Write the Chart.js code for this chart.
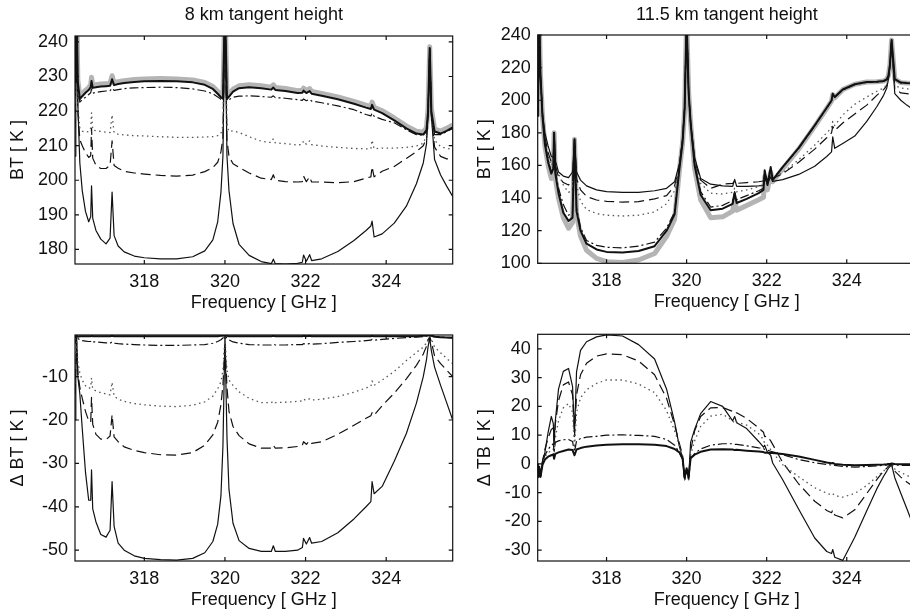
<!DOCTYPE html>
<html>
<head>
<meta charset="utf-8">
<script src="https://cdn.jsdelivr.net/npm/chart.js@4.4.0/dist/chart.umd.min.js"></script>
<style>
  html, body { margin: 0; padding: 0; background: #fff; overflow: hidden; }
  #page { position: relative; width: 910px; height: 614px; overflow: hidden; background: #fff; }
  canvas { position: absolute; }
</style>
</head>
<body>
<div id="page">
  <canvas id="tl_chart" width="455" height="320" style="left:0px;top:0px"></canvas>
  <canvas id="tr_chart" width="460" height="320" style="left:467px;top:0px"></canvas>
  <canvas id="bl_chart" width="455" height="314" style="left:0px;top:300px"></canvas>
  <canvas id="br_chart" width="460" height="314" style="left:467px;top:300px"></canvas>
</div>
<script>
// frequency grid [GHz], shared by all four panels
const freq = [
  316.28, 316.30, 316.32, 316.35, 316.40, 316.46, 316.54, 316.62, 316.67, 316.69, 316.72,
  316.80, 316.92, 317.05, 317.15, 317.20, 317.25, 317.35, 317.50, 317.75, 318.00,
  318.40, 318.80, 319.20, 319.50, 319.70, 319.82, 319.90, 319.95, 320.00, 320.05,
  320.10, 320.20, 320.35, 320.60, 320.90, 321.15, 321.20, 321.25, 321.50, 321.80,
  321.92, 321.95, 322.02, 322.10, 322.15, 322.40, 322.80, 323.20, 323.50, 323.62,
  323.65, 323.70, 323.90, 324.20, 324.50, 324.75, 324.92, 325.00, 325.04, 325.08,
  325.12, 325.20, 325.35, 325.50, 325.65
];
const freqTicks = [318, 320, 322, 324];

// 8 km tangent height, BT [K]
const tlRef = [
  229, 237, 252, 229, 224.2, 225.0, 226.0, 226.8, 227.6, 229.8, 227.4,
  227.6, 227.8, 227.9, 228.0, 230.2, 228.2, 228.5, 228.8, 229.1, 229.3,
  229.4, 229.3, 229.0, 228.3, 227.1, 225.7, 224.7, 224.3, 252, 224.2,
  224.9, 226.3, 227.3, 227.6, 227.3, 226.9, 227.6, 226.8, 226.5, 225.9,
  226.0, 226.6, 225.9, 226.5, 225.7, 225.1, 224.1, 222.8, 221.7, 221.3,
  222.6, 221.1, 220.1, 218.0, 215.7, 214.2, 213.9, 215.2, 221, 238.6,
  221, 214.8, 214.2, 215.0, 216.0
];
const tlSolid1 = [
  228.3, 236, 251, 228.3, 223.5, 224.3, 225.3, 226.1, 226.9, 228.7, 226.7,
  226.9, 227.1, 227.2, 227.3, 229.2, 227.5, 227.8, 228.1, 228.4, 228.6,
  228.7, 228.6, 228.3, 227.6, 226.4, 225.0, 224.0, 223.6, 251, 223.5,
  224.2, 225.6, 226.6, 226.9, 226.6, 226.2, 226.8, 226.1, 225.8, 225.2,
  225.3, 225.9, 225.2, 225.8, 225.0, 224.4, 223.4, 222.1, 221.0, 220.6,
  221.8, 220.4, 219.4, 217.3, 215.0, 213.5, 213.2, 214.5, 220, 238.2,
  220, 214.1, 213.5, 214.3, 215.3
];
const tlDashDot = [
  226.5, 234, 250, 226.5, 222.6, 223.3, 224.0, 224.8, 225.3, 226.4, 225.2,
  225.4, 225.6, 225.8, 225.9, 226.6, 226.0, 226.2, 226.5, 226.7, 226.8,
  226.9, 226.8, 226.4, 225.8, 225.0, 224.1, 223.4, 223.4, 250, 223.0,
  223.3, 224.0, 224.3, 224.4, 224.2, 224.0, 224.4, 223.9, 223.7, 223.3,
  223.1, 223.5, 223.0, 223.4, 222.9, 222.4, 221.5, 220.4, 219.0, 218.6,
  219.4, 218.5, 217.6, 216.6, 214.6, 213.2, 213.0, 214.2, 220, 238,
  219.5, 213.2, 213.2, 214.0, 215.0
];
const tlDotted = [
  221, 232, 250, 222, 215.0, 214.2, 213.9, 214.1, 215.1, 219.5, 214.5,
  214.3, 214.1, 213.9, 213.8, 218.9, 213.7, 213.3, 213.1, 212.9, 212.8,
  212.6, 212.4, 212.4, 212.5, 212.6, 212.9, 213.5, 215.8, 251, 215.7,
  214.1, 214.3, 213.8, 212.6, 211.3, 210.9, 212.0, 210.8, 210.6, 210.2,
  210.4, 211.4, 210.4, 211.4, 210.3, 209.9, 209.5, 209.2, 209.1, 209.1,
  211.6, 209.1, 209.3, 209.3, 209.5, 209.9, 210.7, 213.0, 219.8, 237.9,
  219.7, 211.6, 209.7, 209.2, 209.0
];
const tlDashed = [
  215, 229, 250, 220, 211.7, 210, 208, 206.6, 207.1, 215, 206.4,
  204.3, 203.4, 203.4, 204.3, 211.4, 204.3, 203.5, 202.6, 202.1, 201.8,
  201.4, 201.2, 201.5, 202.5, 203.7, 205.2, 208.2, 212.3, 250, 211.7,
  206.9, 204.8, 203.7, 202.1, 200.6, 200.2, 201.6, 200.0, 199.6, 199.5,
  199.6, 201.2, 199.6, 201.0, 199.5, 199.5, 199.3, 199.6, 200.6, 201.0,
  203.9, 201.0, 202.6, 204.0, 206.3, 208.3, 210.0, 212.2, 219.5, 237.8,
  219, 209.6, 206.9, 206.2, 206.0
];
const tlSolid2 = [
  207, 222, 251, 222, 205, 197, 191, 188, 189.5, 198.4, 189,
  185.5, 183, 181.6, 183.3, 196.6, 184, 181, 179.3, 178.1, 177.6,
  177.3, 177.3, 177.9, 179.6, 182.8, 188, 196.5, 207, 251, 207,
  197, 187.5, 181.5, 178.3, 176.5, 175.9, 177.2, 175.9, 175.8, 176.0,
  176.3, 178.4, 176.6, 178.5, 176.8, 177.3, 179.4, 182.6, 185.5, 186.8,
  188.2, 183.6, 184.5, 187.6, 192.5, 199.0, 205.0, 210.5, 220, 238,
  219, 206, 201.5, 198.3, 195.3
];
const tlYTicks = [180, 190, 200, 210, 220, 230, 240];

// 11.5 km tangent height, BT [K]
const trRef = [
  190, 215, 248, 215, 190, 172, 160, 152, 155, 180, 152,
  140, 128, 121.5, 125, 176, 130, 116.6, 108, 103, 101,
  100.5, 102, 106, 116.5, 127, 157, 174, 194, 250, 205,
  186, 158, 139, 128, 128.5, 132, 140, 132.5, 135.5, 139,
  140.5, 153, 145, 156, 150, 158, 170, 184, 195, 199.5,
  203.5, 201.5, 206.5, 209.8, 211.2, 211.4, 211.8, 212.8, 215, 222,
  237, 213, 210.8, 210.5, 210.4
];
const trSolid1 = [
  190, 215, 248, 215, 190, 173, 162, 155, 158, 180, 155,
  143, 131, 126, 128, 176, 132, 120, 112, 108.5, 107,
  106.6, 107.5, 110.5, 120, 130, 158, 174.5, 194.5, 250, 205,
  186, 160, 142, 132.5, 133.5, 136.5, 143, 137, 139.5, 143,
  145, 157, 148, 159, 151, 159, 170.8, 184.6, 195.4, 199.8,
  204, 202, 206.6, 209.8, 211.2, 211.4, 211.8, 212.8, 215, 222,
  237, 213, 210.8, 210.5, 210.4
];
const trDashDot = [
  190, 215, 248, 215, 190, 173.5, 163, 156, 159, 180, 157,
  146, 136, 129.5, 131, 176, 134, 122, 114, 111, 109.8,
  109.5, 110.5, 113, 121.5, 131.5, 158.5, 175, 195, 250, 205,
  186, 160, 144, 134.5, 135.5, 138.5, 144, 139, 141.5, 144.5,
  146, 156, 149, 158, 151.5, 159, 170.5, 184.2, 195.2, 199.6,
  203.6, 201.8, 206.2, 209.6, 211.0, 211.2, 211.6, 212.6, 215, 222,
  237, 212.8, 210.6, 210.3, 210.2
];
const trDotted = [
  190, 215, 248, 215, 190, 175, 165, 160, 162, 180, 162,
  155, 148, 143.5, 145, 176, 148, 138, 133, 130.5, 129.5,
  129.0, 129.5, 131.5, 136.5, 144.5, 159.5, 175.5, 195, 250, 205,
  186, 162, 149, 143, 142.5, 143.5, 146, 143.8, 145, 147,
  148, 154, 150, 156, 152.2, 155.5, 163.5, 172.5, 180, 183,
  187, 184.5, 191, 197.5, 202, 205.5, 207.5, 209.5, 213, 221,
  236.5, 209, 207.5, 207, 207
];
const trDashed = [
  190, 215, 248, 215, 191, 177, 168, 162, 163, 180, 160,
  153, 149.5, 148, 150, 176, 152, 145, 141, 138.8, 138,
  137.5, 137.8, 139.5, 141.5, 147.5, 160, 176, 195.5, 250, 205,
  186, 163, 151, 146, 148.5, 149, 150.5, 149, 149.5, 150,
  150.5, 153, 151, 155, 152, 155, 162, 170, 177, 180,
  184, 181.5, 186, 191.5, 197, 203, 206.5, 209, 213, 221,
  236.5, 207, 204.5, 204, 203.5
];
const trSolid2 = [
  190, 215, 248, 215, 192, 180, 172, 165.5, 165, 180, 163,
  156, 153.5, 152.5, 156, 176, 156, 151, 147.5, 145, 144,
  143.5, 143.5, 144.5, 146, 150, 161, 176.5, 196, 250, 205,
  186, 165, 152, 148.5, 147.5, 147.2, 151.5, 147.2, 147.2, 147.5,
  148, 152, 149, 153, 150.2, 151.3, 154.5, 159.5, 165.5, 168.3,
  177.5, 170.5, 173.5, 178, 187, 196, 203, 207.5, 213, 221,
  236, 204, 200, 197, 194.5
];
const trYTicks = [100, 120, 140, 160, 180, 200, 220, 240];

// 8 km tangent height, delta BT [K]
const blSolid1 = [
  -0.9, -0.8, -0.4, -0.8, -0.7, -0.7, -0.7, -0.7, -0.7, -0.6, -0.7,
  -0.7, -0.7, -0.7, -0.7, -0.6, -0.7, -0.7, -0.7, -0.7, -0.7,
  -0.7, -0.7, -0.7, -0.7, -0.7, -0.7, -0.6, -0.6, -0.4, -0.6,
  -0.7, -0.7, -0.7, -0.7, -0.7, -0.7, -0.6, -0.7, -0.7, -0.7,
  -0.7, -0.6, -0.7, -0.6, -0.7, -0.7, -0.7, -0.7, -0.7, -0.7,
  -0.6, -0.7, -0.7, -0.7, -0.7, -0.7, -0.6, -0.6, -0.5, -0.4,
  -0.6, -0.8, -0.9, -1.0, -1.0
];
const blDashDot = [
  -2.5, -1.5, -0.5, -1.2, -1.5, -1.7, -1.8, -1.9, -1.9, -1.7, -2.0,
  -2.0, -2.1, -2.2, -2.3, -2.0, -2.3, -2.4, -2.5, -2.6, -2.7,
  -2.8, -2.8, -2.7, -2.6, -2.3, -1.9, -1.5, -1.1, -0.6, -1.1,
  -1.5, -2.0, -2.3, -2.6, -2.7, -2.7, -2.5, -2.7, -2.7, -2.6,
  -2.6, -2.4, -2.5, -2.4, -2.5, -2.4, -2.1, -1.9, -1.7, -1.6,
  -1.4, -1.6, -1.4, -1.2, -1.0, -0.9, -0.8, -0.6, -0.5, -0.3,
  -0.5, -0.7, -0.8, -1.0, -1.1
];
const blDotted = [
  -8, -5, -1.5, -6.5, -9.2, -10.8, -12.1, -12.7, -12.5, -10.3, -12.9,
  -13.3, -13.7, -14.0, -14.2, -11.3, -14.5, -15.2, -15.7, -16.2, -16.5,
  -16.8, -16.9, -16.6, -15.8, -14.5, -12.8, -11.2, -8.5, -1, -8.5,
  -10.8, -12.0, -13.5, -15.0, -16.0, -16.0, -15.6, -16.0, -15.9, -15.7,
  -15.6, -15.2, -15.5, -15.1, -15.4, -15.2, -14.6, -13.6, -12.6, -12.2,
  -11.0, -12.0, -10.8, -8.8, -6.3, -4.4, -3.2, -2.2, -1.2, -0.7,
  -1.3, -3.2, -4.5, -5.8, -7.0
];
const blDashed = [
  -14, -8, -2, -9, -12.5, -15.0, -18.0, -20.2, -20.5, -14.8, -21.0,
  -23.3, -24.4, -24.5, -23.7, -18.8, -23.9, -25.0, -26.2, -27.0, -27.5,
  -28.0, -28.1, -27.5, -25.8, -23.4, -20.5, -16.5, -12, -2, -12.5,
  -18.0, -21.5, -23.6, -25.5, -26.5, -26.5, -25.8, -26.5, -26.4, -26.1,
  -25.8, -25.0, -25.6, -24.8, -25.4, -25.0, -23.3, -21.2, -19.6, -19.0,
  -18.3, -18.9, -16.7, -13.8, -10.5, -7.4, -4.8, -3.0, -1.5, -0.8,
  -2, -5.2, -7.0, -8.5, -10.0
];
const blSolid2 = [
  -20, -10, -0.5, -10, -14, -22, -32, -38.5, -38.5, -31.5, -40.5,
  -43.5, -46.4, -47.0, -45.4, -34.2, -44.5, -48.4, -50.0, -51.3, -51.9,
  -52.2, -52.3, -51.9, -50.6, -48.0, -44.0, -37.5, -26, -0.5, -24,
  -36, -43.8, -47.8, -49.6, -50.3, -50.3, -49.0, -50.3, -50.3, -50.0,
  -49.4, -47.3, -48.6, -47.1, -48.4, -48.0, -46.0, -42.8, -40.0, -38.8,
  -34.2, -37.0, -35.3, -29.5, -23.1, -16.1, -10.0, -6.1, -3, -1.1,
  -4, -7.8, -12.0, -16.0, -20.0
];
const blYTicks = [-50, -40, -30, -20, -10];

// 11.5 km tangent height, delta TB [K]
const brSolid1 = [
  0, -4.5, -1, -4.5, -0.3, 1.5, 2.5, 3.0, 3.3, 1.8, 3.5,
  4.0, 4.5, 5.0, 4.8, 3.0, 5.0, 5.5, 6.0, 6.4, 6.7,
  6.8, 6.8, 6.7, 6.2, 5.2, 4.0, 1.8, -4.5, -1.5, -4.5,
  2.0, 3.2, 4.2, 5.0, 5.1, 5.0, 4.8, 4.9, 4.6, 4.3,
  4.1, 3.9, 4.0, 3.8, 3.8, 3.4, 2.6, 1.4, 0.5, 0.2,
  0.3, 0.0, -0.3, -0.5, -0.4, -0.3, -0.2, -0.1, 0, 0,
  0.1, 0, -0.1, -0.1, -0.1
];
const brDashDot = [
  0, -4.5, -1, -4.5, 0.5, 3, 5, 6.5, 7, 4, 7.5,
  8.0, 8.4, 8.5, 7.8, 4.2, 8.0, 8.8, 9.3, 9.6, 10.0,
  10.1, 9.9, 9.6, 8.5, 6.5, 4.0, 1.5, -5.5, -2, -5.5,
  2.0, 3.6, 5.2, 6.5, 7.0, 7.0, 6.8, 6.8, 6.3, 5.6,
  5.4, 5.0, 4.8, 4.4, 4.2, 3.2, 1.5, 0.4, -0.2, -0.4,
  -0.3, -0.5, -0.9, -1.1, -0.9, -0.7, -0.5, -0.4, -0.3, -0.3,
  -0.3, -0.4, -0.5, -0.5, -0.5
];
const brDotted = [
  0, -4.5, -1, -4.5, 0.5, 2.5, 4.0, 4.5, 5.2, 3, 9,
  15, 19.5, 21, 18, 5.5, 18, 23, 25.8, 28, 29.2,
  29.2, 27.8, 24.8, 18.5, 11.5, 6.5, 2.5, -5.5, -2, -5.5,
  3.0, 8.0, 13.0, 16.6, 17.3, 15.0, 14.0, 14.5, 13.5, 10.5,
  8.5, 7.0, 6.5, 5.0, 4.0, -0.3, -4.5, -8.3, -10.2, -10.8,
  -10.4, -11.0, -11.6, -10.3, -7.5, -4.5, -2.5, -1.4, -0.8, -0.4,
  -0.3, -1.8, -3.0, -4.0, -5.0
];
const brDashed = [
  0, -4.5, -1, -4.5, 0.8, 5, 9, 12, 12.5, 6, 14,
  22, 27.5, 28.5, 24, 9.5, 24, 31, 35, 37.5, 38.3,
  38, 35.8, 31, 22.8, 13.5, 7, 3, -5.5, -2, -5.5,
  4.5, 11.5, 16.5, 19.5, 19.6, 18.3, 17.5, 17.8, 15.8, 12.5,
  11.0, 9.5, 9.6, 8.0, 6.8, 0.5, -7.0, -13.0, -16.2, -17.0,
  -16.0, -17.8, -18.8, -16.0, -10.3, -5.5, -2.5, -1.5, -0.8, -0.4,
  -0.3, -2.5, -4.6, -6.3, -7.8
];
const brSolid2 = [
  0, -4.5, -1, -4.5, 1, 4, 11, 16.5, 14, 7.1, 15,
  26, 32.2, 33.2, 27, 10.8, 32, 39.5, 42.5, 44.2, 44.9,
  44.5, 41.5, 36.5, 26, 14.5, 6, 2, -5.5, -2, -5.5,
  7.5, 12, 17.5, 21.7, 20, 15, 16.5, 14.3, 12.3, 7.8,
  5.8, 6.5, 4.0, 3.0, 0.3, -5.5, -15.8, -25.8, -30.5, -31.2,
  -29.8, -32.5, -33.6, -25.5, -16.3, -8.7, -4.3, -2.5, -1.5, -0.9,
  -0.3, -4.8, -10.2, -15.5, -21
];
const brYTicks = [-30, -20, -10, 0, 10, 20, 30, 40];

Chart.defaults.font.family = "'Liberation Sans', Arial, Helvetica, sans-serif";
Chart.defaults.font.size = 18;
Chart.defaults.color = "#111";

const INK = "#111";

// line styles
const refStyle = { borderColor: "#b4b4b4", borderWidth: 5 };
const solid1Style = { borderColor: INK, borderWidth: 2 };
const dashDotStyle = { borderColor: INK, borderWidth: 1.2, borderDash: [9, 3, 2, 3] };
const dottedStyle = { borderColor: "#555", borderWidth: 1.3, borderDash: [1.5, 3.5] };
const dashedStyle = { borderColor: INK, borderWidth: 1.2, borderDash: [10, 5] };
const solid2Style = { borderColor: INK, borderWidth: 1.2 };

function series(values, style) {
  return Object.assign(
    { data: freq.map((f, i) => ({ x: f, y: values[i] })), fill: false },
    style
  );
}

// box around the plot with MATLAB style inward ticks
const framePlugin = {
  id: "frame",
  afterDatasetsDraw(chart) {
    const { ctx, chartArea: a, scales } = chart;
    ctx.save();
    ctx.strokeStyle = INK;
    ctx.lineWidth = 1.2;
    ctx.strokeRect(a.left, a.top, a.right - a.left, a.bottom - a.top);
    ctx.beginPath();
    scales.x.ticks.forEach((t) => {
      const px = scales.x.getPixelForValue(t.value);
      ctx.moveTo(px, a.bottom);
      ctx.lineTo(px, a.bottom - 4);
      ctx.moveTo(px, a.top);
      ctx.lineTo(px, a.top + 4);
    });
    scales.y.ticks.forEach((t) => {
      const py = scales.y.getPixelForValue(t.value);
      ctx.moveTo(a.left, py);
      ctx.lineTo(a.left + 4, py);
      ctx.moveTo(a.right, py);
      ctx.lineTo(a.right - 4, py);
    });
    ctx.stroke();
    ctx.restore();
  },
};

function makeChart(id, p) {
  return new Chart(document.getElementById(id), {
    type: "line",
    data: { datasets: p.datasets },
    options: {
      responsive: false,
      animation: false,
      layout: { padding: p.padding },
      elements: {
        point: { radius: 0 },
        line: { tension: 0, borderJoinStyle: "round" },
      },
      plugins: {
        legend: { display: false },
        tooltip: { enabled: false },
        title: p.title
          ? {
              display: true,
              text: p.title,
              fullSize: false,
              font: { size: 18, weight: "normal" },
              padding: { top: 4.7, bottom: p.titleGap },
            }
          : { display: false },
      },
      scales: {
        x: {
          type: "linear",
          min: 316.28,
          max: p.xMax,
          grid: { display: false, drawTicks: false },
          border: { display: false },
          afterBuildTicks: (s) => { s.ticks = freqTicks.map((v) => ({ value: v })); },
          afterFit: (s) => { s.height = 52; },
          ticks: { padding: 7, maxRotation: 0 },
          title: { display: true, text: "Frequency [ GHz ]", padding: { top: 0, bottom: 2.2 } },
        },
        y: {
          min: p.yMin,
          max: p.yMax,
          grid: { display: false, drawTicks: false },
          border: { display: false },
          afterBuildTicks: (s) => { s.ticks = p.yTicks.map((v) => ({ value: v })); },
          afterFit: (s) => { s.width = p.yWidth; },
          ticks: { padding: 7 },
          title: { display: true, text: p.yTitle, padding: { top: 7, bottom: 0 } },
        },
      },
    },
    plugins: [framePlugin],
  });
}

// 8 km, brightness temperature
makeChart("tl_chart", {
  title: "8 km tangent height",
  titleGap: 9.7,
  padding: { left: 0, right: 2.3, top: 0, bottom: 4 },
  xMax: 325.65,
  yWidth: 75, yMin: 175.8, yMax: 241.7, yTicks: tlYTicks, yTitle: "BT [ K ]",
  datasets: [
    series(tlSolid1, solid1Style),
    series(tlDashDot, dashDotStyle),
    series(tlDotted, dottedStyle),
    series(tlDashed, dashedStyle),
    series(tlSolid2, solid2Style),
    series(tlRef, refStyle),
  ],
});

// 11.5 km, brightness temperature (right edge runs past the picture)
makeChart("tr_chart", {
  title: "11.5 km tangent height",
  titleGap: 8.7,
  padding: { left: 0, right: 11, top: 0, bottom: 4.7 },
  xMax: 325.73,
  yWidth: 70.7, yMin: 100, yMax: 240, yTicks: trYTicks, yTitle: "BT [ K ]",
  datasets: [
    series(trSolid1, solid1Style),
    series(trDashDot, dashDotStyle),
    series(trDotted, dottedStyle),
    series(trDashed, dashedStyle),
    series(trSolid2, solid2Style),
    series(trRef, refStyle),
  ],
});

// 8 km, differences
makeChart("bl_chart", {
  padding: { left: 0, right: 2.3, top: 35, bottom: 1 },
  xMax: 325.65,
  yWidth: 75, yMin: -52.5, yMax: -0.4, yTicks: blYTicks, yTitle: "\u0394 BT [ K ]",
  datasets: [
    series(blSolid1, solid1Style),
    series(blDashDot, dashDotStyle),
    series(blDotted, dottedStyle),
    series(blDashed, dashedStyle),
    series(blSolid2, solid2Style),
  ],
});

// 11.5 km, differences
makeChart("br_chart", {
  padding: { left: 0, right: 11, top: 34.3, bottom: 1 },
  xMax: 325.73,
  yWidth: 70.7, yMin: -33.8, yMax: 45.1, yTicks: brYTicks, yTitle: "\u0394 TB [ K ]",
  datasets: [
    series(brSolid1, solid1Style),
    series(brDashDot, dashDotStyle),
    series(brDotted, dottedStyle),
    series(brDashed, dashedStyle),
    series(brSolid2, solid2Style),
  ],
});
</script>
</body>
</html>
